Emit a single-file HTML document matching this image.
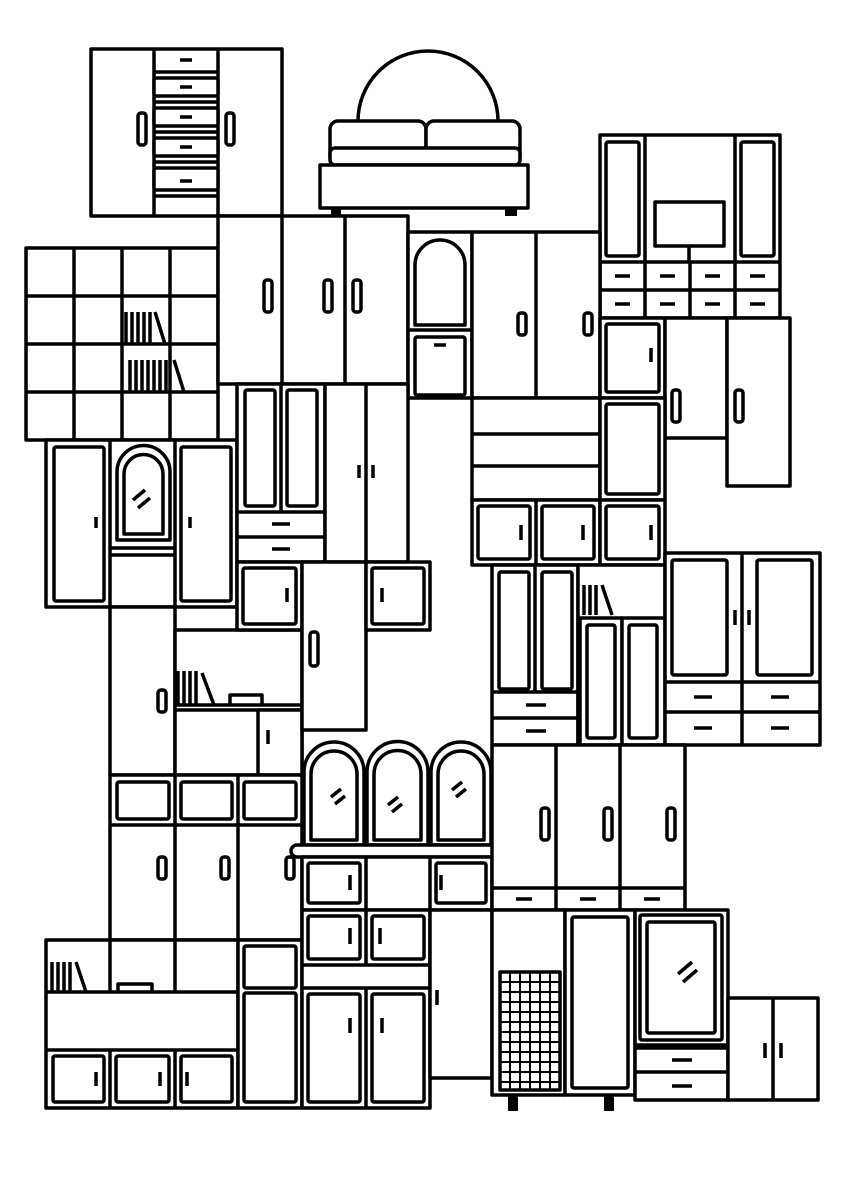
<!DOCTYPE html>
<html><head><meta charset="utf-8"><style>
html,body{margin:0;padding:0;background:#fff}
svg{display:block}
rect,path,line,circle{stroke:#000;fill:#fff;stroke-width:3.5;stroke-linejoin:round}
.n{fill:none}
.h{fill:#000;stroke:none}
</style></head><body>
<svg width="849" height="1200" viewBox="0 0 849 1200" xmlns="http://www.w3.org/2000/svg">
<rect x="91" y="49" width="191" height="167"/>
<line x1="154" y1="49" x2="154" y2="216"/><line x1="218" y1="49" x2="218" y2="216"/>
<line x1="154" y1="72" x2="218" y2="72"/><line x1="154" y1="102" x2="218" y2="102"/><line x1="154" y1="132" x2="218" y2="132"/><line x1="154" y1="162" x2="218" y2="162"/><line x1="154" y1="196" x2="218" y2="196"/>
<rect x="154" y="78" width="64" height="18" rx="2"/><rect x="154" y="108" width="64" height="18" rx="2"/><rect x="154" y="138" width="64" height="18" rx="2"/><rect x="154" y="168" width="64" height="22" rx="2"/>
<line x1="180" y1="60" x2="192" y2="60"/><line x1="180" y1="87" x2="192" y2="87"/><line x1="180" y1="117" x2="192" y2="117"/><line x1="180" y1="147" x2="192" y2="147"/><line x1="180" y1="181" x2="192" y2="181"/>
<rect x="138" y="113" width="8" height="32" rx="3"/><rect x="226" y="113" width="8" height="32" rx="3"/>
<path d="M358 121 A70 70 0 0 1 498 121"/>
<rect x="330" y="121" width="96" height="44" rx="8"/><rect x="426" y="121" width="94" height="44" rx="8"/>
<rect x="330" y="148" width="190" height="17" rx="5"/>
<rect x="320" y="165" width="208" height="43"/>
<rect x="331" y="208" width="10" height="8" class="h"/><rect x="505" y="208" width="12" height="8" class="h"/>
<rect x="600" y="135" width="180" height="183"/>
<line x1="645" y1="135" x2="645" y2="318"/><line x1="735" y1="135" x2="735" y2="318"/>
<rect x="606" y="142" width="33" height="114" rx="2"/><rect x="741" y="142" width="33" height="114" rx="2"/>
<rect x="655" y="202" width="69" height="44"/><line x1="689" y1="246" x2="689" y2="262"/>
<line x1="600" y1="262" x2="780" y2="262"/><line x1="600" y1="290" x2="780" y2="290"/><line x1="690" y1="262" x2="690" y2="318"/>
<g><line x1="615" y1="276" x2="630" y2="276"/><line x1="660" y1="276" x2="675" y2="276"/><line x1="705" y1="276" x2="720" y2="276"/><line x1="750" y1="276" x2="765" y2="276"/>
<line x1="615" y1="304" x2="630" y2="304"/><line x1="660" y1="304" x2="675" y2="304"/><line x1="705" y1="304" x2="720" y2="304"/><line x1="750" y1="304" x2="765" y2="304"/></g>
<rect x="26" y="248" width="192" height="192"/>
<line x1="74" y1="248" x2="74" y2="440"/><line x1="122" y1="248" x2="122" y2="440"/><line x1="170" y1="248" x2="170" y2="440"/>
<line x1="26" y1="296" x2="218" y2="296"/><line x1="26" y1="344" x2="218" y2="344"/><line x1="26" y1="392" x2="218" y2="392"/>
<path class="n" d="M126 344V312M132 344V312M138 344V312M144 344V312M150 344V312M155 312l10 32M130 392V360M136 392V360M142 392V360M148 392V360M154 392V360M160 392V360M166 392V360M174 360l10 32" />
<rect x="218" y="216" width="190" height="168"/>
<line x1="282" y1="216" x2="282" y2="384"/><line x1="345" y1="216" x2="345" y2="384"/>
<rect x="264" y="280" width="8" height="32" rx="3"/><rect x="324" y="280" width="8" height="32" rx="3"/><rect x="353" y="280" width="8" height="32" rx="3"/>
<rect x="408" y="232" width="64" height="166"/>
<path d="M415 325V265a25 25 0 0 1 50 0V325Z"/>
<line x1="408" y1="330" x2="472" y2="330"/>
<rect x="415" y="337" width="50" height="58" rx="2"/><line x1="434" y1="345" x2="446" y2="345"/>
<rect x="472" y="232" width="128" height="166"/><line x1="536" y1="232" x2="536" y2="398"/>
<rect x="518" y="313" width="8" height="22" rx="3"/><rect x="584" y="313" width="8" height="22" rx="3"/>
<rect x="600" y="318" width="65" height="80"/><rect x="606" y="324" width="53" height="68" rx="2"/><line x1="651" y1="348" x2="651" y2="362"/>
<rect x="665" y="318" width="62" height="120"/><rect x="727" y="318" width="63" height="168"/>
<rect x="672" y="390" width="8" height="32" rx="3"/><rect x="735" y="390" width="8" height="32" rx="3"/>
<rect x="46" y="440" width="191" height="167"/>
<line x1="110" y1="440" x2="110" y2="607"/><line x1="175" y1="440" x2="175" y2="607"/>
<rect x="54" y="447" width="50" height="154" rx="2"/><rect x="181" y="447" width="50" height="154" rx="2"/>
<path d="M117 540V472a26 26 0 0 1 53 0V540Z"/><path d="M124 534V474a19 19 0 0 1 39 0V534Z"/>
<line x1="110" y1="548" x2="175" y2="548"/><line x1="110" y1="555" x2="175" y2="555"/>
<path class="n" d="M133 500l12-10M138 508l12-10"/>
<line x1="96" y1="517" x2="96" y2="528"/><line x1="190" y1="517" x2="190" y2="528"/>
<rect x="237" y="384" width="88" height="178"/><line x1="281" y1="384" x2="281" y2="512"/>
<rect x="245" y="390" width="30" height="116" rx="2"/><rect x="287" y="390" width="30" height="116" rx="2"/>
<line x1="237" y1="512" x2="325" y2="512"/><line x1="237" y1="537" x2="325" y2="537"/>
<line x1="272" y1="524" x2="290" y2="524"/><line x1="272" y1="549" x2="290" y2="549"/>
<rect x="325" y="384" width="83" height="178"/><line x1="366" y1="384" x2="366" y2="562"/>
<line x1="359" y1="465" x2="359" y2="478"/><line x1="373" y1="465" x2="373" y2="478"/>
<rect x="472" y="398" width="128" height="102"/><line x1="472" y1="434" x2="600" y2="434"/><line x1="472" y1="466" x2="600" y2="466"/>
<rect x="472" y="500" width="128" height="65"/><line x1="536" y1="500" x2="536" y2="565"/>
<rect x="478" y="506" width="52" height="53" rx="2"/><rect x="542" y="506" width="52" height="53" rx="2"/>
<line x1="521" y1="525" x2="521" y2="540"/><line x1="583" y1="525" x2="583" y2="540"/>
<rect x="600" y="398" width="65" height="102"/><rect x="606" y="404" width="53" height="90" rx="2"/>
<rect x="600" y="500" width="65" height="65"/><rect x="606" y="506" width="53" height="53" rx="2"/><line x1="651" y1="525" x2="651" y2="540"/>
<rect x="110" y="607" width="65" height="168"/><rect x="158" y="690" width="8" height="22" rx="3"/>
<rect x="175" y="630" width="127" height="145"/><line x1="175" y1="705" x2="302" y2="705"/><line x1="175" y1="710" x2="302" y2="710"/>
<rect x="258" y="710" width="44" height="65"/><line x1="268" y1="730" x2="268" y2="744"/>
<path class="n" d="M178 705V671M184 705V671M190 705V671M196 705V671M202 673l12 32M230 705v-10h32v10"/>
<rect x="237" y="562" width="65" height="68"/><rect x="243" y="568" width="53" height="56" rx="2"/><line x1="287" y1="588" x2="287" y2="602"/>
<rect x="302" y="562" width="64" height="168"/><rect x="310" y="632" width="8" height="34" rx="3"/>
<rect x="366" y="562" width="64" height="68"/><rect x="372" y="568" width="52" height="56" rx="2"/><line x1="382" y1="588" x2="382" y2="602"/>
<rect x="492" y="565" width="86" height="180"/><line x1="535" y1="565" x2="535" y2="692"/>
<rect x="499" y="572" width="30" height="117" rx="2"/><rect x="542" y="572" width="30" height="117" rx="2"/>
<line x1="492" y1="692" x2="578" y2="692"/><line x1="492" y1="718" x2="578" y2="718"/>
<line x1="526" y1="705" x2="546" y2="705"/><line x1="526" y1="731" x2="546" y2="731"/>
<rect x="578" y="565" width="87" height="180"/>
<path class="n" d="M584 615V585M590 615V585M596 615V585M602 585l10 30"/>
<rect x="580" y="618" width="42" height="127"/><rect x="622" y="618" width="43" height="127"/>
<rect x="587" y="625" width="28" height="113" rx="2"/><rect x="629" y="625" width="28" height="113" rx="2"/>
<rect x="665" y="553" width="155" height="192"/><line x1="742" y1="553" x2="742" y2="682"/>
<rect x="672" y="560" width="55" height="115" rx="2"/><rect x="757" y="560" width="55" height="115" rx="2"/>
<line x1="735" y1="610" x2="735" y2="625"/><line x1="749" y1="610" x2="749" y2="625"/>
<line x1="665" y1="682" x2="820" y2="682"/><line x1="665" y1="712" x2="820" y2="712"/><line x1="742" y1="682" x2="742" y2="745"/>
<line x1="694" y1="697" x2="712" y2="697"/><line x1="771" y1="697" x2="789" y2="697"/><line x1="694" y1="728" x2="712" y2="728"/><line x1="771" y1="728" x2="789" y2="728"/>
<rect x="110" y="775" width="192" height="165"/><line x1="175" y1="775" x2="175" y2="940"/><line x1="238" y1="775" x2="238" y2="940"/>
<line x1="110" y1="825" x2="302" y2="825"/>
<rect x="117" y="782" width="52" height="37" rx="2"/><rect x="181" y="782" width="51" height="37" rx="2"/><rect x="244" y="782" width="52" height="37" rx="2"/>
<rect x="158" y="857" width="8" height="22" rx="3"/><rect x="221" y="857" width="8" height="22" rx="3"/><rect x="286" y="857" width="8" height="22" rx="3"/>
<path d="M304 845V772a30 30 0 0 1 60 0V845Z"/><path d="M311 840V774a23 23 0 0 1 46 0V840Z"/>
<path d="M367 845V772a30 30 0 0 1 61 0V845Z"/><path d="M374 840V774a23 23 0 0 1 47 0V840Z"/>
<path d="M431 845V772a30 30 0 0 1 60 0V845Z"/><path d="M438 840V774a23 23 0 0 1 46 0V840Z"/>
<path class="n" d="M331 797l10-8M335 804l10-8M388 805l10-8M392 812l10-8M452 790l10-8M456 797l10-8"/>
<rect x="291" y="845" width="214" height="12" rx="6"/>
<rect x="302" y="857" width="190" height="53"/><line x1="366" y1="857" x2="366" y2="910"/><line x1="430" y1="857" x2="430" y2="910"/>
<rect x="308" y="863" width="52" height="40" rx="2"/><rect x="436" y="863" width="50" height="40" rx="2"/>
<line x1="350" y1="875" x2="350" y2="890"/><line x1="441" y1="875" x2="441" y2="890"/>
<rect x="492" y="745" width="193" height="165"/><line x1="556" y1="745" x2="556" y2="910"/><line x1="620" y1="745" x2="620" y2="910"/>
<line x1="492" y1="888" x2="685" y2="888"/>
<rect x="541" y="808" width="8" height="32" rx="3"/><rect x="604" y="808" width="8" height="32" rx="3"/><rect x="667" y="808" width="8" height="32" rx="3"/>
<line x1="516" y1="899" x2="532" y2="899"/><line x1="580" y1="899" x2="596" y2="899"/><line x1="644" y1="899" x2="660" y2="899"/>
<rect x="46" y="940" width="192" height="168"/><line x1="110" y1="940" x2="110" y2="992"/><line x1="175" y1="940" x2="175" y2="992"/>
<line x1="46" y1="992" x2="238" y2="992"/><line x1="46" y1="1050" x2="238" y2="1050"/>
<line x1="110" y1="1050" x2="110" y2="1108"/><line x1="175" y1="1050" x2="175" y2="1108"/>
<rect x="53" y="1056" width="51" height="46" rx="2"/><rect x="116" y="1056" width="53" height="46" rx="2"/><rect x="181" y="1056" width="51" height="46" rx="2"/>
<line x1="96" y1="1072" x2="96" y2="1086"/><line x1="160" y1="1072" x2="160" y2="1086"/><line x1="187" y1="1072" x2="187" y2="1086"/>
<path class="n" d="M52 992V962M58 992V962M64 992V962M70 992V962M76 962l10 30M118 992v-8h34v8"/>
<rect x="238" y="940" width="64" height="168"/><rect x="244" y="946" width="52" height="42" rx="2"/><rect x="244" y="993" width="52" height="109" rx="2"/>
<rect x="302" y="910" width="128" height="198"/><line x1="366" y1="910" x2="366" y2="965"/>
<rect x="308" y="916" width="52" height="43" rx="2"/><rect x="372" y="916" width="52" height="43" rx="2"/>
<line x1="350" y1="928" x2="350" y2="944"/><line x1="380" y1="928" x2="380" y2="944"/>
<line x1="302" y1="965" x2="430" y2="965"/><line x1="302" y1="988" x2="430" y2="988"/><line x1="366" y1="988" x2="366" y2="1108"/>
<rect x="308" y="994" width="52" height="108" rx="2"/><rect x="372" y="994" width="52" height="108" rx="2"/>
<line x1="350" y1="1018" x2="350" y2="1033"/><line x1="382" y1="1018" x2="382" y2="1033"/>
<rect x="430" y="910" width="62" height="168"/><line x1="437" y1="990" x2="437" y2="1005"/>
<rect x="492" y="910" width="73" height="185"/>
<rect x="500" y="972" width="60" height="118"/>
<path class="n" style="stroke-width:2" d="M500 982H560M500 992H560M500 1002H560M500 1012H560M500 1022H560M500 1032H560M500 1042H560M500 1052H560M500 1062H560M500 1072H560M500 1082H560M510 972V1090M520 972V1090M530 972V1090M540 972V1090M550 972V1090"/>
<rect x="508" y="1095" width="10" height="16" class="h"/><rect x="604" y="1095" width="10" height="16" class="h"/>
<rect x="565" y="910" width="70" height="185"/><rect x="572" y="917" width="56" height="171" rx="2"/>
<rect x="635" y="910" width="93" height="190"/><rect x="640" y="915" width="82" height="125" rx="2"/><rect x="647" y="922" width="68" height="111" rx="2"/>
<path class="n" d="M678 974l14-12M683 982l14-12"/>
<line x1="635" y1="1045" x2="728" y2="1045"/><line x1="635" y1="1072" x2="728" y2="1072"/><line x1="635" y1="1048" x2="728" y2="1048"/>
<line x1="672" y1="1060" x2="692" y2="1060"/><line x1="672" y1="1086" x2="692" y2="1086"/>
<rect x="728" y="998" width="90" height="102"/><line x1="773" y1="998" x2="773" y2="1100"/>
<line x1="765" y1="1043" x2="765" y2="1058"/><line x1="781" y1="1043" x2="781" y2="1058"/>
</svg>
</body></html>
